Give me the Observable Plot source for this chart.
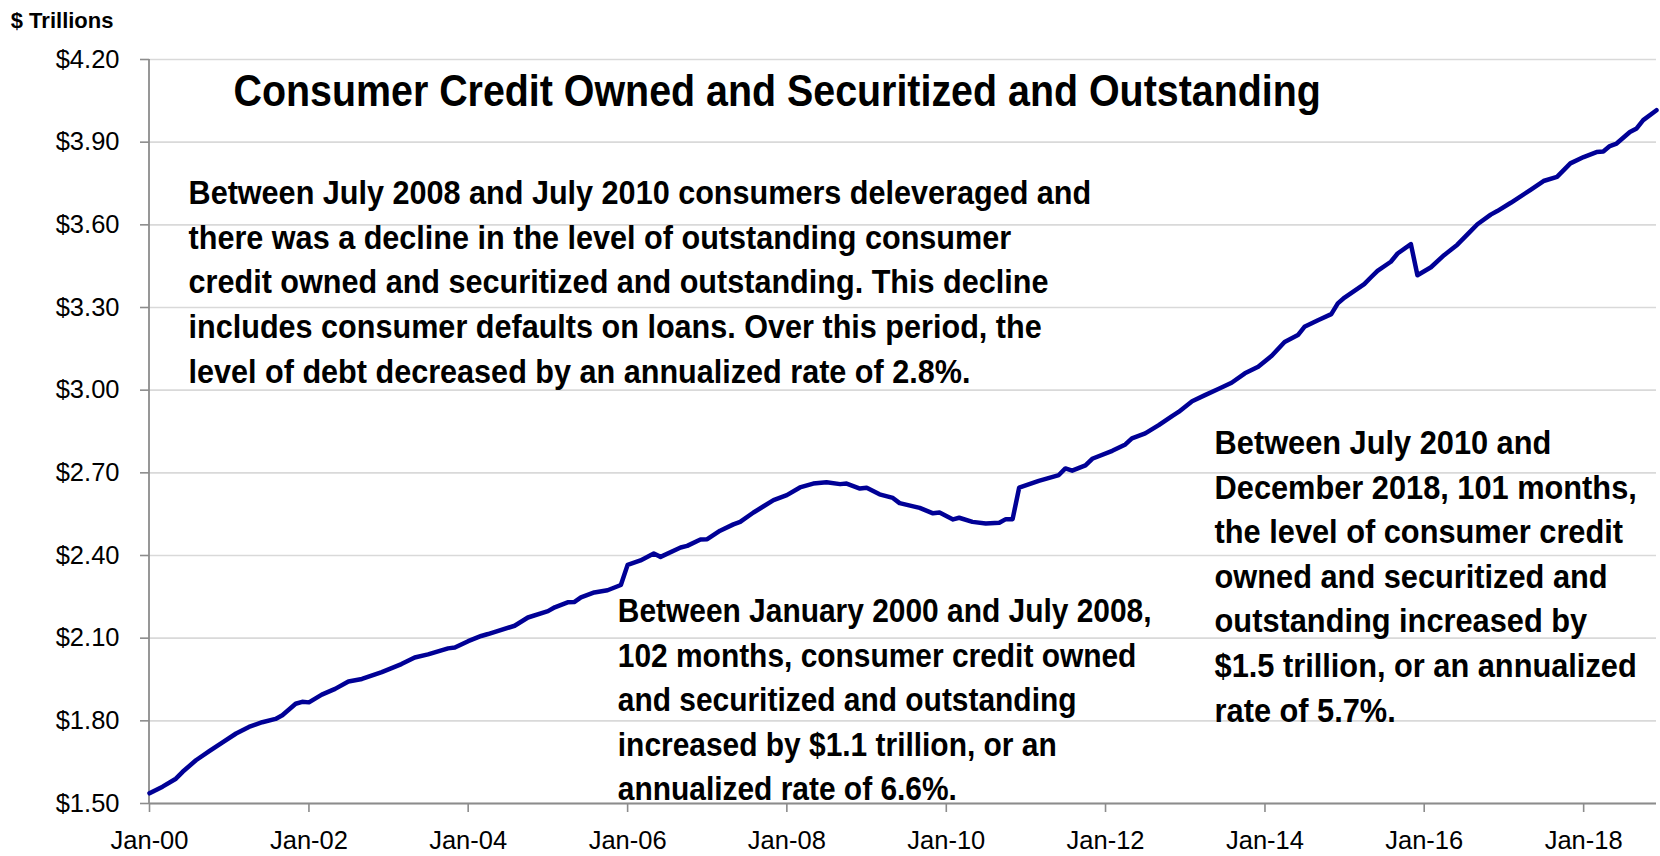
<!DOCTYPE html>
<html>
<head>
<meta charset="utf-8">
<script src="https://cdn.jsdelivr.net/npm/d3@7"></script>
<script src="https://cdn.jsdelivr.net/npm/@observablehq/plot@0.6"></script>
<style>
  html, body { margin: 0; padding: 0; background: #fff; }
  #chart svg { display: block; }
</style>
</head>
<body>
<div id="chart"></div>
<script>
// ---- Data ----
const months = [
  "2000-01","2000-03","2000-05","2000-06","2000-08","2000-10","2000-12",
  "2001-02","2001-04","2001-06","2001-08","2001-09","2001-11","2001-12",
  "2002-01","2002-03","2002-05","2002-07","2002-09","2002-12",
  "2003-03","2003-05","2003-07","2003-10","2003-11",
  "2004-01","2004-03","2004-04","2004-08","2004-10",
  "2005-01","2005-02","2005-04","2005-05","2005-06","2005-08","2005-10","2005-12",
  "2006-01","2006-03","2006-05","2006-06","2006-09","2006-10","2006-12",
  "2007-01","2007-03","2007-05","2007-06","2007-08","2007-11",
  "2008-01","2008-03","2008-05","2008-07","2008-09","2008-10","2008-12",
  "2009-01","2009-03","2009-05","2009-06","2009-09","2009-11","2009-12",
  "2010-02","2010-03","2010-05","2010-07","2010-09","2010-10","2010-11","2010-12",
  "2011-03","2011-06","2011-07","2011-08","2011-10","2011-11",
  "2012-02","2012-04","2012-05","2012-07","2012-09","2012-11","2012-12",
  "2013-02","2013-04","2013-06","2013-08","2013-10","2013-12",
  "2014-02","2014-04","2014-06","2014-07","2014-09","2014-11","2014-12",
  "2015-01","2015-04","2015-05","2015-06","2015-08","2015-09","2015-11","2015-12",
  "2016-02","2016-04","2016-06","2016-08","2016-09","2016-11","2016-12",
  "2017-02","2017-05","2017-07","2017-09","2017-11",
  "2018-01","2018-03","2018-04","2018-05","2018-06","2018-08","2018-09","2018-10","2018-12"
];
const credit = [
  1.537,1.561,1.590,1.615,1.657,1.690,1.722,
  1.754,1.778,1.795,1.807,1.820,1.862,1.869,
  1.867,1.895,1.916,1.943,1.952,1.977,
  2.006,2.030,2.041,2.063,2.066,
  2.089,2.108,2.115,2.145,2.175,
  2.198,2.212,2.230,2.231,2.248,2.266,2.274,2.293,
  2.366,2.382,2.407,2.395,2.429,2.435,2.458,
  2.459,2.490,2.513,2.522,2.556,2.601,
  2.619,2.647,2.661,2.666,2.659,2.661,2.643,
  2.646,2.622,2.609,2.590,2.573,2.553,2.556,
  2.531,2.537,2.522,2.516,2.519,2.532,2.532,2.646,
  2.671,2.692,2.716,2.708,2.727,2.751,
  2.780,2.803,2.825,2.843,2.873,2.906,2.921,
  2.960,2.982,3.004,3.027,3.061,3.085,
  3.125,3.175,3.200,3.230,3.254,3.276,3.315,
  3.336,3.385,3.409,3.433,3.466,3.496,3.530,3.417,
  3.446,3.490,3.528,3.577,3.602,3.637,3.650,
  3.680,3.726,3.759,3.774,3.823,
  3.846,3.864,3.866,3.886,3.895,3.937,3.950,3.980,4.016
];
const yTicks = [1.50, 1.80, 2.10, 2.40, 2.70, 3.00, 3.30, 3.60, 3.90, 4.20];
const yTickLabels = ["$1.50","$1.80","$2.10","$2.40","$2.70","$3.00","$3.30","$3.60","$3.90","$4.20"];
const xTickMonths = ["2000-01","2002-01","2004-01","2006-01","2008-01","2010-01","2012-01","2014-01","2016-01","2018-01"];
const xTickLabels = ["Jan-00","Jan-02","Jan-04","Jan-06","Jan-08","Jan-10","Jan-12","Jan-14","Jan-16","Jan-18"];

const unitLabel = "$ Trillions";
const titleText = "Consumer Credit Owned and Securitized and Outstanding";
const noteDecline = [
  "Between July 2008 and July 2010 consumers deleveraged and",
  "there was a decline in the level of outstanding consumer",
  "credit owned and securitized and outstanding. This decline",
  "includes consumer defaults on loans. Over this period, the",
  "level of debt decreased by an annualized rate of 2.8%."
];
const noteEarly = [
  "Between January 2000 and July 2008,",
  "102 months, consumer credit owned",
  "and securitized and outstanding",
  "increased by $1.1 trillion, or an",
  "annualized rate of 6.6%."
];
const noteLate = [
  "Between July 2010 and",
  "December 2018, 101 months,",
  "the level of consumer credit",
  "owned and securitized and",
  "outstanding increased by",
  "$1.5 trillion, or an annualized",
  "rate of 5.7%."
];

// ---- Build ----
const parseM = d3.utcParse("%Y-%m");
const parseD = d3.utcParse("%Y-%m-%d");
const series = months.map((m, i) => ({date: parseM(m), value: credit[i]}));
const xTicks = xTickMonths.map(parseM);
const xFmt = d => xTickLabels[xTicks.findIndex(t => +t === +d)];
const yFmt = d => yTickLabels[yTicks.findIndex(t => Math.abs(t - d) < 1e-9)];

// anchors for the texts, in data units
const unitAnchor = [{date: parseD("1998-04-05"), value: 4.3135, text: unitLabel}];
const titleAnchor = [{date: parseD("2001-01-20"), value: 4.033, text: titleText}];
const notes = [
  {date: parseD("2000-06-28"), value: 3.789, text: noteDecline.join("\n")},
  {date: parseD("2005-11-17"), value: 2.273, text: noteEarly.join("\n")},
  {date: parseD("2013-05-15"), value: 2.882, text: noteLate.join("\n")}
];

const axisGray = "#8c8c8c";
const chart = Plot.plot({
  width: 1660,
  height: 856,
  marginLeft: 149,
  marginRight: 4,
  marginTop: 59,
  marginBottom: 53,
  style: {fontFamily: "'Liberation Sans', Arial, Helvetica, sans-serif", background: "#fff", color: "#000", overflow: "visible"},
  x: {type: "utc", domain: [series[0].date, series[series.length - 1].date]},
  y: {domain: [yTicks[0], yTicks[yTicks.length - 1]]},
  marks: [
    Plot.gridY(yTicks, {stroke: "#d9d9d9", strokeOpacity: 1, strokeWidth: 1.6}),
    Plot.axisY(yTicks, {tickSize: 9, tickPadding: 21, tickFormat: yFmt, fontSize: 25.5, stroke: axisGray, strokeWidth: 1.6, fill: "#000", label: null}),
    Plot.axisX(xTicks, {tickSize: 9, tickPadding: 18.5, tickFormat: xFmt, fontSize: 25.5, stroke: axisGray, strokeWidth: 1.6, fill: "#000", label: null}),
    Plot.ruleX([series[0].date], {stroke: axisGray, strokeWidth: 1.8, dx: -0.5}),
    Plot.ruleY([yTicks[0]], {stroke: axisGray, strokeWidth: 1.8}),
    Plot.line(series, {x: "date", y: "value", stroke: "#000096", strokeWidth: 4.5, strokeLinejoin: "round", strokeLinecap: "round"}),
    Plot.text(unitAnchor, {x: "date", y: "value", text: "text", textAnchor: "start", lineAnchor: "bottom", fontSize: 22, fontWeight: "bold", fill: "#000"}),
    Plot.text(titleAnchor, {x: "date", y: "value", text: "text", textAnchor: "start", lineAnchor: "bottom", fontSize: 44, fontWeight: "bold", fill: "#000"}),
    Plot.text(notes, {x: "date", y: "value", text: "text", textAnchor: "start", lineAnchor: "top", lineHeight: 1.31, fontSize: 34, fontWeight: "bold", fill: "#000"})
  ]
});
document.getElementById("chart").appendChild(chart);

// horizontally condense the title and notes, as in the reference typeface
function condenseText(t, s) {
  let tr = t.getAttribute("transform");
  if (!tr) {
    const x = t.getAttribute("x") || 0, y = t.getAttribute("y") || 0;
    t.removeAttribute("x"); t.removeAttribute("y");
    tr = `translate(${x},${y})`;
  }
  t.setAttribute("transform", `${tr} scale(${s},1)`);
}
const starts = [
  [titleText, 0.895],
  [noteDecline[0], 0.90],
  [noteEarly[0], 0.88],
  [noteLate[0], 0.905]
];
chart.querySelectorAll("text").forEach(t => {
  const c = t.textContent;
  for (const [s, k] of starts) {
    if (c.startsWith(s)) { condenseText(t, k); break; }
  }
});
</script>
</body>
</html>
